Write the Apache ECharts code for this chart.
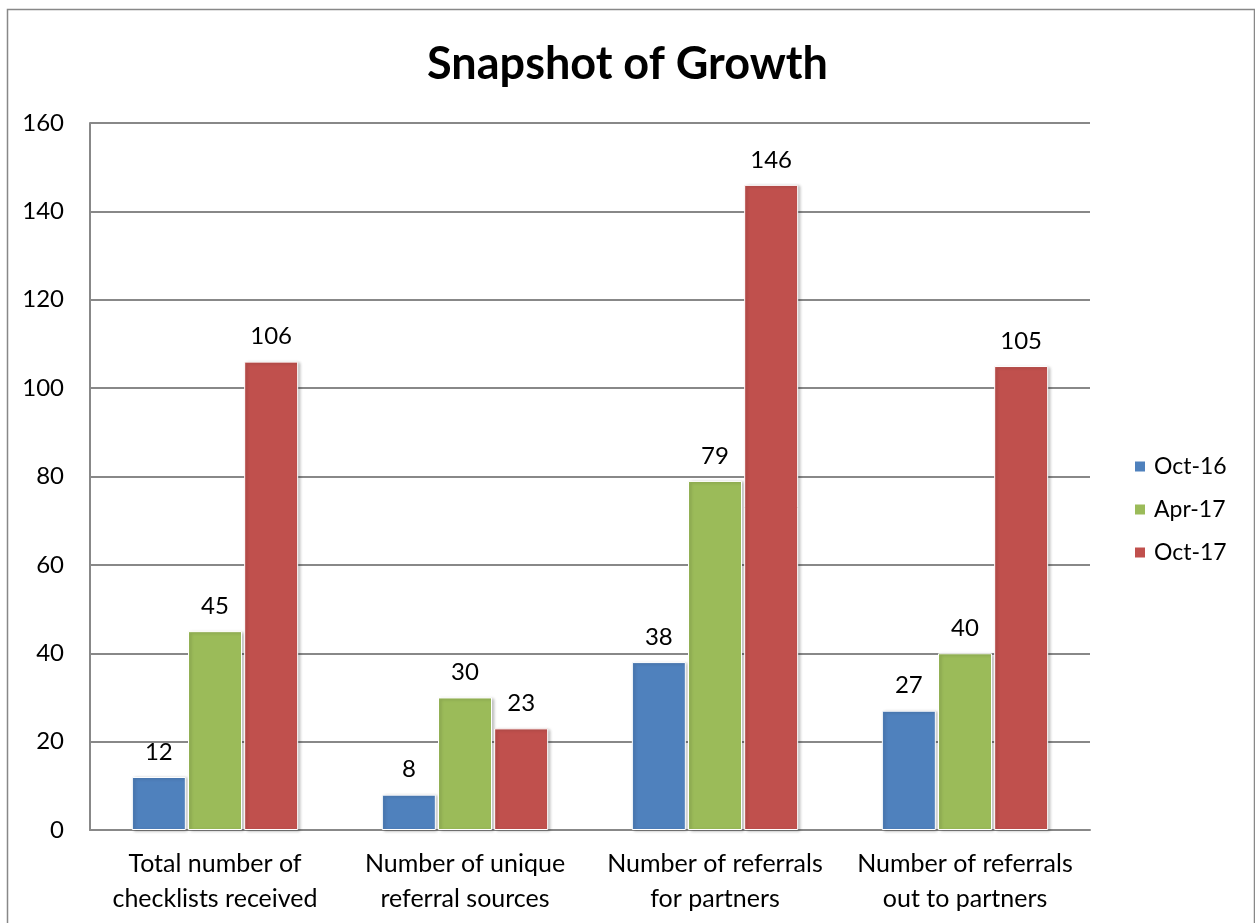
<!DOCTYPE html>
<html>
<head>
<meta charset="utf-8">
<script src="https://cdn.jsdelivr.net/npm/echarts@6/dist/echarts.min.js"></script>
<style>
  html, body { margin: 0; padding: 0; background: #fff; }
  #chart { width: 1255px; height: 923px; }
</style>
</head>
<body>
<div id="chart"></div>
<script>
// Categories and series values
const categories = [
  'Total number of\nchecklists received',
  'Number of unique\nreferral sources',
  'Number of referrals\nfor partners',
  'Number of referrals\nout to partners'
];
const seriesNames = ['Oct-16', 'Apr-17', 'Oct-17'];
const oct16 = [12, 8, 38, 27];
const apr17 = [45, 30, 79, 40];
const oct17 = [106, 23, 146, 105];
const yTicks = [0, 20, 40, 60, 80, 100, 120, 140, 160];

const colors = ['#4F81BD', '#9BBB59', '#C0504D'];
const font = 'Lato, "Open Sans", sans-serif';

const chart = echarts.init(document.getElementById('chart'), null, { renderer: 'canvas' });

function barSeries(name, data, color) {
  return {
    name: name,
    type: 'bar',
    data: data,
    barWidth: 54,
    barGap: '4%',
    itemStyle: {
      color: color,
      borderColor: '#ffffff',
      borderWidth: 1,
      shadowColor: 'rgba(0,0,0,0.25)',
      shadowBlur: 3,
      shadowOffsetX: 2,
      shadowOffsetY: 1
    },
    label: {
      show: true,
      position: 'top',
      distance: 13,
      color: '#000',
      fontSize: 24,
      fontFamily: font
    }
  };
}

chart.setOption({
  animation: false,
  backgroundColor: '#ffffff',
  color: colors,
  title: {
    text: 'Snapshot of Growth',
    left: 'center',
    top: 37,
    textStyle: { fontSize: 45, fontWeight: 'bold', color: '#000', fontFamily: font }
  },
  graphic: [{
    type: 'rect',
    shape: { x: 7.5, y: 9.5, width: 1247, height: 930 },
    style: { fill: 'none', stroke: '#888888', lineWidth: 1.5 },
    silent: true
  }],
  legend: {
    data: seriesNames,
    orient: 'vertical',
    left: 1128,
    top: 450,
    itemWidth: 12,
    itemHeight: 12,
    itemGap: 20,
    icon: 'rect',
    textStyle: { fontSize: 23, color: '#000', fontFamily: font, padding: [0, 0, 0, 3] }
  },
  grid: { left: 90, right: 165, top: 123, bottom: 93, containLabel: false },
  xAxis: {
    type: 'category',
    data: categories,
    axisLine: { show: true, lineStyle: { color: '#888888', width: 2 } },
    axisTick: { show: false },
    axisLabel: {
      fontSize: 25, color: '#000', fontFamily: font, margin: 16, lineHeight: 35, interval: 0
    }
  },
  yAxis: {
    type: 'value',
    min: yTicks[0],
    max: yTicks[yTicks.length - 1],
    interval: 20,
    axisLine: { show: true, lineStyle: { color: '#888888', width: 2 } },
    axisTick: { show: false },
    axisLabel: { fontSize: 24, color: '#000', fontFamily: font, margin: 26 },
    splitLine: { show: true, lineStyle: { color: '#888888', width: 2 } }
  },
  series: [
    barSeries(seriesNames[0], oct16, colors[0]),
    barSeries(seriesNames[1], apr17, colors[1]),
    barSeries(seriesNames[2], oct17, colors[2])
  ]
});
</script>
</body>
</html>
